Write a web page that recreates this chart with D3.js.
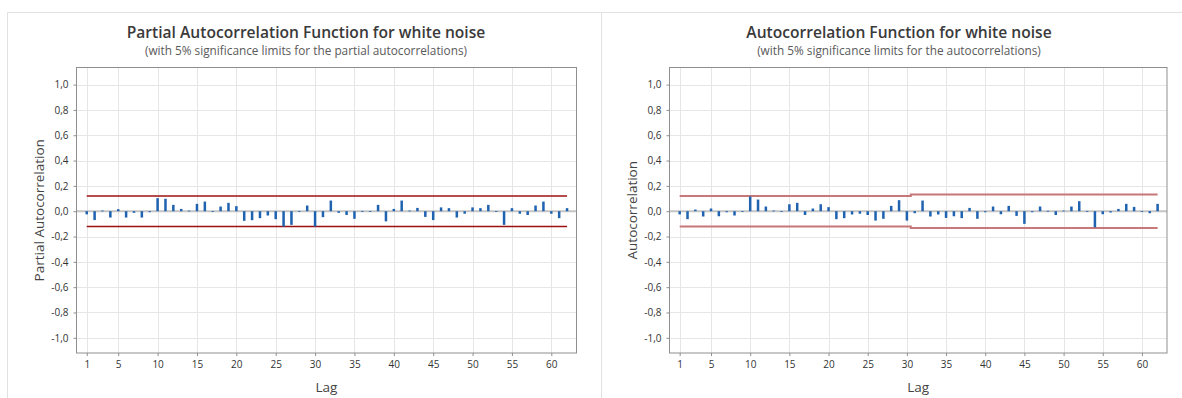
<!DOCTYPE html>
<html>
<head>
<meta charset="utf-8">
<script src="https://cdn.jsdelivr.net/npm/d3@7"></script>
<style>
  body { margin: 0; background: #fff; }
  svg { display: block; font-family: "Segoe UI", "Open Sans", sans-serif; }
</style>
</head>
<body>
<div id="chart"></div>
<script>
// values, lag 1..62
const pacfValues = [
  -0.025, -0.07, 0.005, -0.05, 0.016, -0.05, -0.013, -0.05, -0.008, 0.103,
  0.098, 0.05, 0.018, 0.005, 0.058, 0.076, -0.005, 0.037, 0.066, 0.04,
  -0.076, -0.071, -0.055, -0.034, -0.063, -0.121, -0.108, 0.002, 0.045, -0.121,
  -0.047, 0.084, -0.013, -0.03, -0.06, 0.002, 0.001, 0.05, -0.08, 0.018,
  0.084, 0.005, 0.026, -0.045, -0.07, 0.03, 0.024, -0.05, -0.02, 0.03,
  0.024, 0.05, -0.005, -0.108, 0.024, -0.02, -0.03, 0.045, 0.076, -0.02,
  -0.055, 0.024
];

const acfValues = [
  -0.025, -0.063, 0.013, -0.042, 0.021, -0.04, -0.008, -0.034, -0.005, 0.116,
  0.092, 0.037, 0.005, -0.005, 0.055, 0.066, -0.03, 0.021, 0.055, 0.032,
  -0.063, -0.055, -0.026, -0.02, -0.03, -0.074, -0.06, 0.042, 0.087, -0.074,
  -0.016, 0.084, -0.042, -0.026, -0.053, -0.04, -0.055, 0.026, -0.06, -0.008,
  0.037, -0.024, 0.042, -0.037, -0.1, -0.008, 0.037, 0.003, -0.03, 0.005,
  0.037, 0.079, 0.001, -0.127, -0.024, -0.01, 0.018, 0.058, 0.034, -0.005,
  -0.016, 0.058
];

// 5% significance limits
const pacfLimitSteps = [{ from: 1, to: 62, value: 0.12 }];
const acfLimitSteps = [
  { from: 1, to: 30.5, value: 0.121 },
  { from: 30.5, to: 62, value: 0.132 }
];

const xTickValues = [1, 5, 10, 15, 20, 25, 30, 35, 40, 45, 50, 55, 60];
const yTickValues = [-1, -0.8, -0.6, -0.4, -0.2, 0, 0.2, 0.4, 0.6, 0.8, 1];

const width = 1182;
const height = 398;

const svg = d3.select("#chart")
  .append("svg")
  .attr("width", width)
  .attr("height", height);

// panel frames
svg.append("line")
  .attr("x1", 7.5).attr("x2", width).attr("y1", 12.5).attr("y2", 12.5)
  .style("stroke", "#e1e1e1");
svg.append("line")
  .attr("x1", 7.5).attr("x2", 7.5).attr("y1", 12.5).attr("y2", height)
  .style("stroke", "#e1e1e1");
svg.append("line")
  .attr("x1", 601.5).attr("x2", 601.5).attr("y1", 12.5).attr("y2", height)
  .style("stroke", "#e1e1e1");

// comma decimals, plain hyphen for negatives
const fmt = (d) => d3.format(".1f")(d).replace(".", ",").replace("\u2212", "-");

function drawPanel(opts) {
  const top = 67.5;
  const bottom = 353;

  const x = d3.scaleLinear().domain([-0.3, 63.2]).range([opts.left, opts.right]);
  const y = d3.scaleLinear().domain([-1.12, 1.135]).range([bottom, top]);

  const g = svg.append("g");

  // titles
  g.append("text")
    .attr("x", opts.centerX)
    .attr("y", 38)
    .attr("text-anchor", "middle")
    .style("font-size", "15.6px")
    .style("font-weight", 600)
    .style("fill", "#3a3a3a")
    .text(opts.title);

  g.append("text")
    .attr("x", opts.centerX)
    .attr("y", 55)
    .attr("text-anchor", "middle")
    .style("font-size", "11.8px")
    .style("fill", "#5a5a5a")
    .text(opts.subtitle);

  // gridlines
  g.append("g")
    .selectAll("line")
    .data(xTickValues)
    .join("line")
    .attr("x1", (d) => Math.round(x(d)) + 0.5)
    .attr("x2", (d) => Math.round(x(d)) + 0.5)
    .attr("y1", top)
    .attr("y2", bottom)
    .style("stroke", "#e6e6e6");

  g.append("g")
    .selectAll("line")
    .data(yTickValues)
    .join("line")
    .attr("x1", opts.left)
    .attr("x2", opts.right)
    .attr("y1", (d) => Math.round(y(d)) + 0.5)
    .attr("y2", (d) => Math.round(y(d)) + 0.5)
    .style("stroke", "#e6e6e6");

  // zero reference
  g.append("line")
    .attr("x1", opts.left)
    .attr("x2", opts.right)
    .attr("y1", y(0))
    .attr("y2", y(0))
    .style("stroke", "#c4c4c4")
    .style("stroke-width", 2);

  // significance limits
  const limitLine = d3.line().x((d) => x(d[0])).y((d) => y(d[1]));
  [1, -1].forEach((sign) => {
    const pts = [];
    opts.limits.forEach((s) => {
      pts.push([s.from, sign * s.value]);
      pts.push([s.to, sign * s.value]);
    });
    g.append("path")
      .attr("d", limitLine(pts))
      .style("fill", "none")
      .style("stroke", opts.limitColor)
      .style("stroke-width", opts.limitWidth);
  });

  // bars
  g.append("g")
    .selectAll("rect")
    .data(opts.values)
    .join("rect")
    .attr("x", (d, i) => x(i + 1) - 1.25)
    .attr("width", 2.5)
    .attr("y", (d) => Math.min(y(d), y(0)))
    .attr("height", (d) => Math.max(Math.abs(y(d) - y(0)), 0.8))
    .style("fill", "#1f62b0");

  // frame
  g.append("rect")
    .attr("x", opts.left)
    .attr("y", top)
    .attr("width", opts.right - opts.left)
    .attr("height", bottom - top)
    .style("fill", "none")
    .style("stroke", "#8f8f8f");

  // axes
  const xAxis = g.append("g")
    .attr("transform", `translate(0,${bottom})`)
    .call(d3.axisBottom(x).tickValues(xTickValues).tickSize(3).tickPadding(5));
  const yAxis = g.append("g")
    .attr("transform", `translate(${opts.left},0)`)
    .call(d3.axisLeft(y).tickValues(yTickValues).tickFormat(fmt).tickSize(3).tickPadding(5));

  [xAxis, yAxis].forEach((a) => {
    a.select(".domain").remove();
    a.selectAll(".tick line").style("stroke", "#8f8f8f");
    a.selectAll(".tick text")
      .style("font-family", "\"Segoe UI\", \"Open Sans\", sans-serif")
      .style("font-size", "10px")
      .style("fill", "#333");
  });

  // axis titles
  g.append("text")
    .attr("x", (opts.left + opts.right) / 2)
    .attr("y", 392)
    .attr("text-anchor", "middle")
    .style("font-size", "13.5px")
    .style("fill", "#444")
    .text("Lag");

  g.append("text")
    .attr("transform", `translate(${opts.left - 33},${(top + bottom) / 2}) rotate(-90)`)
    .attr("text-anchor", "middle")
    .style("font-size", "13.5px")
    .style("fill", "#444")
    .text(opts.yLabel);
}

drawPanel({
  left: 76.5,
  right: 576.5,
  centerX: 306,
  title: "Partial Autocorrelation Function for white noise",
  subtitle: "(with 5% significance limits for the partial autocorrelations)",
  yLabel: "Partial Autocorrelation",
  values: pacfValues,
  limits: pacfLimitSteps,
  limitColor: "#9c1212",
  limitWidth: 1.5
});

drawPanel({
  left: 669.5,
  right: 1167,
  centerX: 899,
  title: "Autocorrelation Function for white noise",
  subtitle: "(with 5% significance limits for the autocorrelations)",
  yLabel: "Autocorrelation",
  values: acfValues,
  limits: acfLimitSteps,
  limitColor: "#c67777",
  limitWidth: 2
});
</script>
</body>
</html>
